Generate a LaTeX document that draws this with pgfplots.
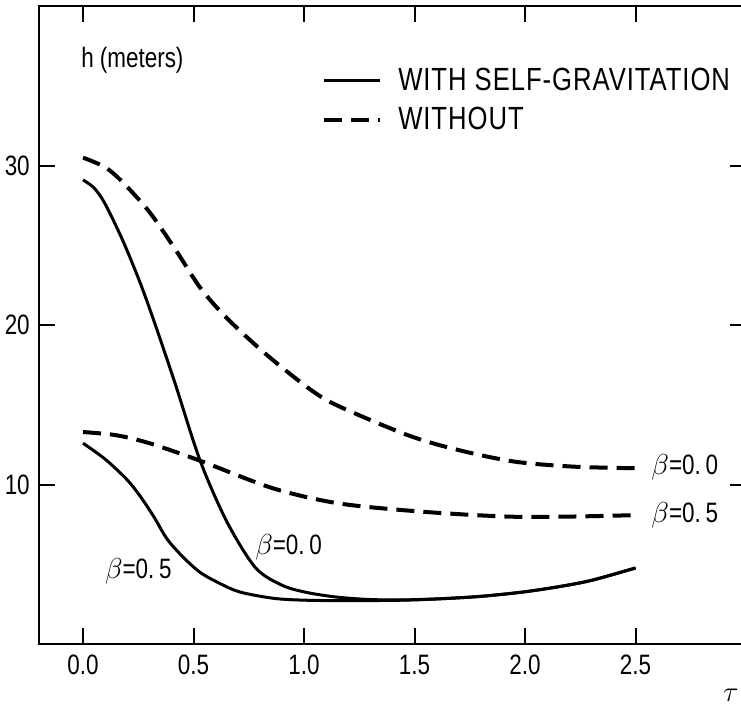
\documentclass[border=0pt]{standalone}
\usepackage{fontspec}
\setmainfont{Liberation Sans}[FakeStretch=0.8]
\usepackage{pgfplots}
\pgfplotsset{compat=1.18}
\begin{document}
\begin{tikzpicture}
\begin{axis}[
    scale only axis,
    width=353pt, height=318.5pt,
    xmin=-0.2, xmax=3.0, ymin=0, ymax=40,
    axis line style={line width=1pt},
    xtick={0,0.5,1,1.5,2,2.5},
    xticklabels={0.0,0.5,1.0,1.5,2.0,2.5},
    ytick={10,20,30},
    yticklabels={10,20,30},
    tick align=inside,
    major tick length=8pt,
    tick style={line width=1pt, black},
    ticklabel style={font=\fontsize{14}{16}\selectfont},
    xticklabel style={yshift=-2pt},
    yticklabel style={xshift=-1pt},
    clip=false,
    legend cell align=left,
    legend style={draw=none, fill=none, at={(axis cs:1.08,36.4)}, anchor=north west,
        font=\fontsize{16}{18}\selectfont\addfontfeatures{LetterSpace=3}, row sep=3pt, inner sep=0pt},
    legend image code/.code={\draw[#1] (0pt,0pt) -- (28pt,0pt); \path (34pt,0pt);},
  ]
  % with self-gravitation, beta = 0.0
  \addplot[black, line width=1.5pt, smooth] coordinates {
    (0,29.1) (0.05,28.6) (0.10,27.6) (0.18,25.3) (0.26,22.6) (0.33,19.9) (0.42,16.2)
    (0.53,11.5) (0.65,7.7) (0.78,4.8) (0.90,3.7) (1.01,3.25) (1.15,2.95)
    (1.3,2.8) (1.45,2.78) (1.62,2.85) (1.8,3.0) (1.99,3.27) (2.15,3.6)
    (2.3,4.0) (2.5,4.78)};
  \addlegendentry{WITH SELF-GRAVITATION}
  % without, beta = 0.0
  \addplot[black, line width=2pt, dash pattern=on 9pt off 4.5pt, smooth] coordinates {
    (0,30.5) (0.1,29.9) (0.18,28.95) (0.30,27.1) (0.42,24.7) (0.53,22.35)
    (0.65,20.45) (0.83,18.15) (1.03,15.95) (1.16,14.9) (1.47,13.1)
    (1.69,12.2) (1.95,11.45) (2.22,11.13) (2.5,11.03)};
  \addlegendentry{WITHOUT}
  % with self-gravitation, beta = 0.5
  \addplot[black, line width=1.5pt, smooth] coordinates {
    (0,12.6) (0.1,11.6) (0.2,10.3) (0.26,9.25) (0.32,8.0) (0.38,6.6)
    (0.45,5.5) (0.53,4.5) (0.62,3.8) (0.71,3.27) (0.86,2.88) (1.0,2.76)
    (1.2,2.73) (1.45,2.76) (1.62,2.85) (1.8,3.0) (1.99,3.27) (2.15,3.6)
    (2.3,4.0) (2.5,4.78)};
  % without, beta = 0.5
  \addplot[black, line width=2pt, dash pattern=on 9pt off 4.5pt, smooth] coordinates {
    (0,13.3) (0.15,13.1) (0.3,12.6) (0.53,11.5) (0.86,9.77) (1.16,8.82)
    (1.54,8.3) (1.92,8.0) (2.2,8.0) (2.5,8.09)};

  \node[anchor=west, font=\fontsize{14}{16}\selectfont] at (axis cs:-0.04,36.6) {h (meters)};
  \node[anchor=west, font=\fontsize{14}{16}\selectfont] at (axis cs:2.54,11.1) {$\beta$=0.\,0};
  \node[anchor=west, font=\fontsize{14}{16}\selectfont] at (axis cs:2.54,8.1) {$\beta$=0.\,5};
  \node[font=\fontsize{14}{16}\selectfont] at (axis cs:0.93,6.1) {$\beta$=0.\,0};
  \node[font=\fontsize{14}{16}\selectfont] at (axis cs:0.25,4.6) {$\beta$=0.\,5};
  \node[anchor=east, inner sep=0.5pt, font=\fontsize{14}{16}\selectfont] at (axis cs:2.972,-3.2) {$\tau$};

  \coordinate (bl) at (axis cs:-0.3756,-3.77);
  \coordinate (tr) at (axis cs:2.977,40.38);
\end{axis}
\pgfresetboundingbox
\path[use as bounding box] (bl) rectangle (tr);
\end{tikzpicture}
\end{document}
